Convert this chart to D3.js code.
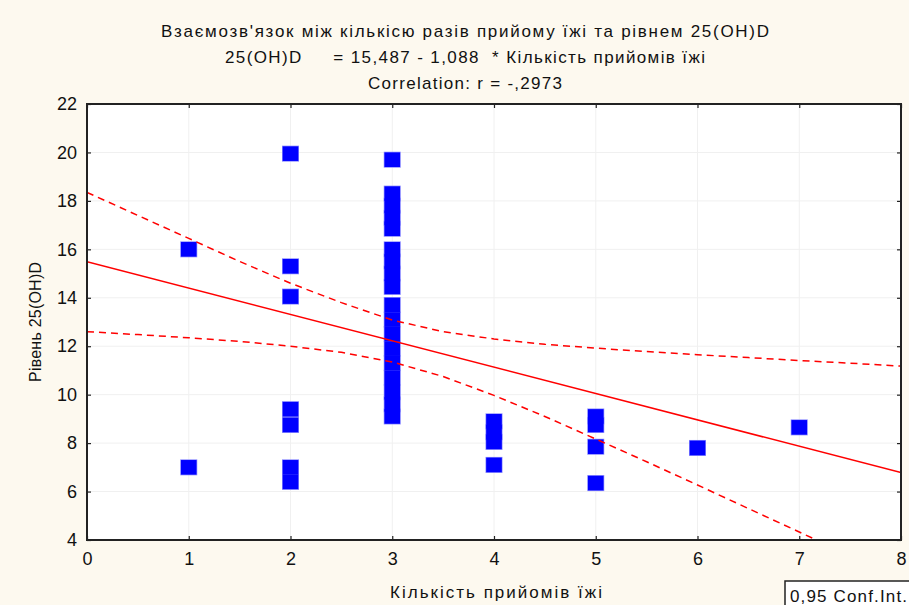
<!DOCTYPE html>
<html>
<head>
<meta charset="utf-8">
<script src="https://cdn.jsdelivr.net/npm/d3@7"></script>
<style>
  body { margin: 0; background: #fdf9ef; }
  text { font-family: "Liberation Sans", Arial, sans-serif; fill: #111; }
</style>
</head>
<body>
<div id="container"></div>
<script>
// chart data
let pointX = [1, 1,
  2, 2, 2, 2, 2, 2, 2,
  3, 3, 3, 3, 3, 3, 3, 3, 3, 3, 3, 3, 3, 3, 3, 3, 3, 3,
  4, 4, 4, 4,
  5, 5, 5, 5,
  6, 7]
let pointY = [16.0, 7.0,
  19.95, 15.3, 14.05, 9.4, 8.75, 7.0, 6.4,
  19.7, 18.3, 17.8, 17.3, 16.85, 16.0, 15.5, 15.0, 14.45,
  13.7, 13.1, 12.5, 11.9, 11.3, 10.7, 10.1, 9.6, 9.1,
  8.9, 8.45, 8.05, 7.1,
  9.1, 8.75, 7.85, 6.35,
  7.8, 8.65]

// regression: 25(OH)D = 15,487 - 1,088 * x
let intercept = 15.487, slope = -1.088

// 0,95 confidence bands
let bandX = [0, 0.5, 1, 1.5, 2, 2.5, 3, 3.5, 4, 4.5, 5, 5.5, 6, 6.5, 7, 7.5, 8]
let bandUpper = [18.35, 17.4, 16.45, 15.5, 14.6, 13.8, 13.08, 12.6, 12.3, 12.08, 11.92, 11.78, 11.65, 11.53, 11.41, 11.3, 11.18]
let bandLower = [12.6, 12.48, 12.35, 12.2, 12.0, 11.75, 11.35, 10.75, 9.97, 9.1, 8.17, 7.23, 6.27, 5.3, 4.33, 3.36, 2.38]

let xTicks = [0, 1, 2, 3, 4, 5, 6, 7, 8]
let yTicks = [4, 6, 8, 10, 12, 14, 16, 18, 20, 22]

let titleLines = [
  "Взаємозв'язок між кількісю разів прийому їжі та рівнем 25(OH)D",
  "25(OH)D     = 15,487 - 1,088  * Кількість прийомів їжі",
  "Correlation: r = -,2973"
]
let titleWidths = [608, 480, 194]
let xLabel = "Кількість прийомів їжі"
let yLabel = "Рівень 25(OH)D"
let legendText = "0,95 Conf.Int."

let width = 909, height = 605
let pLeft = 87, pRight = 901, pTop = 104, pBottom = 540

let svg = d3.select('#container')
  .append('svg')
  .attr('width', width)
  .attr('height', height)

svg.append('rect')
  .attr('width', width).attr('height', height)
  .attr('fill', '#fdf9ef')

let x = d3.scaleLinear().domain([0, 8]).range([pLeft, pRight])
let y = d3.scaleLinear().domain([4, 22]).range([pBottom, pTop])

// plot area
svg.append('rect')
  .attr('x', pLeft).attr('y', pTop)
  .attr('width', pRight - pLeft).attr('height', pBottom - pTop)
  .attr('fill', '#fff')

// faint grid
svg.append('g').selectAll('line')
  .data(xTicks.slice(1, -1))
  .join('line')
  .attr('x1', d => x(d)).attr('x2', d => x(d))
  .attr('y1', pTop).attr('y2', pBottom)
  .attr('stroke', '#f0f0f0')
svg.append('g').selectAll('line')
  .data(yTicks.slice(1, -1))
  .join('line')
  .attr('x1', pLeft).attr('x2', pRight)
  .attr('y1', d => y(d)).attr('y2', d => y(d))
  .attr('stroke', '#f0f0f0')

// clip for the lines
svg.append('clipPath').attr('id', 'clip')
  .append('rect')
  .attr('x', pLeft).attr('y', pTop)
  .attr('width', pRight - pLeft).attr('height', pBottom - pTop)

let plot = svg.append('g').attr('clip-path', 'url(#clip)')

// points: soft outline layer first, then solid fills so stacked squares merge
let pts = pointX.map((d, i) => [d, pointY[i]])
plot.append('g').selectAll('rect')
  .data(pts)
  .join('rect')
  .attr('x', d => x(d[0]) - 8.5)
  .attr('y', d => y(d[1]) - 8)
  .attr('width', 17)
  .attr('height', 16)
  .attr('fill', '#8c8cff')
plot.append('g').selectAll('rect')
  .data(pts)
  .join('rect')
  .attr('x', d => x(d[0]) - 7.8)
  .attr('y', d => y(d[1]) - 7.3)
  .attr('width', 15.6)
  .attr('height', 14.6)
  .attr('fill', '#0000ff')

// regression line
plot.append('path')
  .datum([0, 8])
  .attr('d', d3.line().x(d => x(d)).y(d => y(intercept + slope * d)))
  .attr('fill', 'none')
  .attr('stroke', '#ff0000')
  .attr('stroke-width', 1.5)

// confidence bands
let band = d3.line().x((d, i) => x(bandX[i])).y(d => y(d))
plot.selectAll('path.band')
  .data([bandUpper, bandLower])
  .join('path')
  .attr('class', 'band')
  .attr('d', band)
  .attr('fill', 'none')
  .attr('stroke', '#ff0000')
  .attr('stroke-width', 1.5)
  .attr('stroke-dasharray', '7,5')

// axes, ticks inside on all four sides
let axisG = svg.append('g')
axisG.append('g')
  .attr('transform', `translate(0,${pBottom})`)
  .call(d3.axisBottom(x).tickValues(xTicks).tickSizeInner(-4).tickSizeOuter(0).tickPadding(12))
axisG.append('g')
  .attr('transform', `translate(0,${pTop})`)
  .call(d3.axisTop(x).tickValues(xTicks).tickSizeInner(-4).tickSizeOuter(0).tickFormat(''))
axisG.append('g')
  .attr('transform', `translate(${pLeft},0)`)
  .call(d3.axisLeft(y).tickValues(yTicks).tickSizeInner(-4).tickSizeOuter(0).tickPadding(10))
axisG.append('g')
  .attr('transform', `translate(${pRight},0)`)
  .call(d3.axisRight(y).tickValues(yTicks).tickSizeInner(-4).tickSizeOuter(0).tickFormat(''))

axisG.selectAll('.domain').remove()
axisG.selectAll('.tick line').attr('stroke', '#222').attr('stroke-width', 1.2)
axisG.selectAll('.tick text')
  .style('font-family', '"Liberation Sans", Arial, sans-serif')
  .style('font-size', '18px')
  .attr('fill', '#111')

// frame
svg.append('rect')
  .attr('x', pLeft).attr('y', pTop)
  .attr('width', pRight - pLeft).attr('height', pBottom - pTop)
  .attr('fill', 'none')
  .attr('stroke', '#222')
  .attr('stroke-width', 2)

// titles
svg.selectAll('text.title')
  .data(titleLines)
  .join('text')
  .attr('class', 'title')
  .attr('x', 465)
  .attr('y', (d, i) => 37 + i * 26)
  .attr('text-anchor', 'middle')
  .attr('textLength', (d, i) => titleWidths[i])
  .attr('lengthAdjust', 'spacing')
  .style('font-size', '17px')
  .style('white-space', 'pre')
  .attr('xml:space', 'preserve')
  .text(d => d)

svg.append('text')
  .attr('x', 496)
  .attr('y', 598)
  .attr('text-anchor', 'middle')
  .attr('textLength', 212)
  .attr('lengthAdjust', 'spacing')
  .style('font-size', '17px')
  .text(xLabel)

svg.append('text')
  .attr('transform', `translate(41,${(pTop + pBottom) / 2}) rotate(-90)`)
  .attr('text-anchor', 'middle')
  .attr('textLength', 120)
  .attr('lengthAdjust', 'spacing')
  .style('font-size', '16px')
  .text(yLabel)

// legend box
let lg = svg.append('g').attr('transform', 'translate(785,581)')
lg.append('rect')
  .attr('width', 130).attr('height', 30)
  .attr('fill', '#fff')
  .attr('stroke', '#222')
  .attr('stroke-width', 1.5)
lg.append('text')
  .attr('x', 5).attr('y', 21)
  .attr('textLength', 117)
  .attr('lengthAdjust', 'spacing')
  .style('font-size', '17px')
  .text(legendText)
</script>
</body>
</html>
